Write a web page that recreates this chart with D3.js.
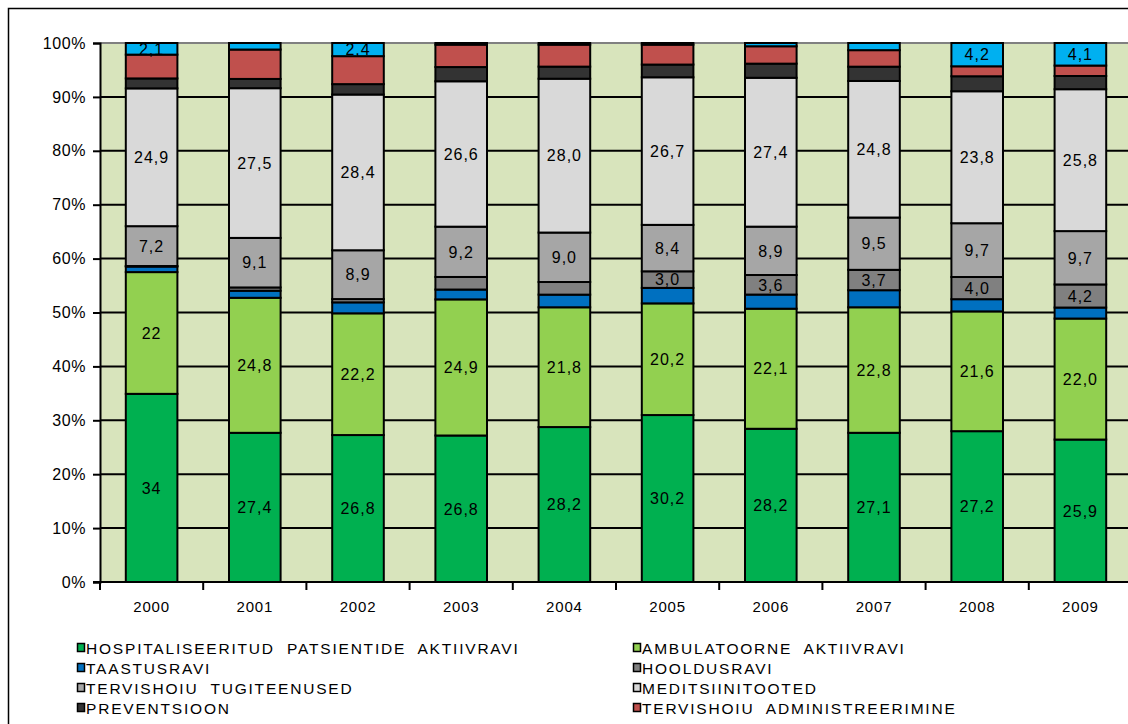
<!DOCTYPE html>
<html>
<head>
<meta charset="utf-8">
<script src="https://cdn.jsdelivr.net/npm/d3@7"></script>
<style>
  html, body { margin: 0; padding: 0; background: #ffffff; }
  svg { display: block; font-family: "Liberation Sans", Arial, sans-serif; }
</style>
</head>
<body>
<svg id="chart" width="1128" height="724"></svg>
<script>
// Tervishoiukulude struktuur funktsioonide järgi, 2000–2009 (%)
const years = ["2000", "2001", "2002", "2003", "2004", "2005", "2006", "2007", "2008", "2009"];

const hospital    = [34, 27.4, 26.8, 26.8, 28.2, 30.2, 28.2, 27.1, 27.2, 25.9];
const ambulatory  = [22, 24.8, 22.2, 24.9, 21.8, 20.2, 22.1, 22.8, 21.6, 22.0];
const rehab       = [1.0, 1.3, 2.0, 1.8, 2.3, 2.8, 2.6, 3.1, 2.2, 2.0];
const nursing     = [0.1, 0.6, 0.6, 2.3, 2.3, 3.0, 3.6, 3.7, 4.0, 4.2];
const support     = [7.2, 9.1, 8.9, 9.2, 9.0, 8.4, 8.9, 9.5, 9.7, 9.7];
const goods       = [24.9, 27.5, 28.4, 26.6, 28.0, 26.7, 27.4, 24.8, 23.8, 25.8];
const prevention  = [1.8, 1.7, 1.9, 2.6, 2.2, 2.3, 2.6, 2.6, 2.7, 2.4];
const admin       = [4.3, 5.4, 5.1, 4.1, 4.0, 3.6, 3.2, 3.0, 1.8, 1.9];
const other       = [2.1, 1.2, 2.4, 0.3, 0.3, 0.3, 0.6, 1.3, 4.2, 4.1];

const seriesNames = [
  "HOSPITALISEERITUD  PATSIENTIDE  AKTIIVRAVI",
  "AMBULATOORNE  AKTIIVRAVI",
  "TAASTUSRAVI",
  "HOOLDUSRAVI",
  "TERVISHOIU  TUGITEENUSED",
  "MEDITSIINITOOTED",
  "PREVENTSIOON",
  "TERVISHOIU  ADMINISTREERIMINE",
  "MUU"
];
const seriesValues = [hospital, ambulatory, rehab, nursing, support, goods, prevention, admin, other];
const seriesColors = ["#00b050", "#92d050", "#0070c0", "#808080", "#a6a6a6", "#d9d9d9", "#333333", "#c0504d", "#00b0f0"];

// years whose segment carries a value label, per series (null = every year)
const labelledYears = [null, null, [], ["2005", "2006", "2007", "2008", "2009"], null, null, [], [], ["2000", "2002", "2008", "2009"]];
// series shown in the legend (the last one has no legend entry)
const legendCount = 8;

const rows = years.map((yr, i) => {
  const r = { year: yr };
  seriesValues.forEach((vals, k) => { r["s" + k] = vals[i]; });
  return r;
});
const keys = seriesValues.map((_, k) => "s" + k);
const stacked = d3.stack().keys(keys).offset(d3.stackOffsetExpand)(rows);

const svg = d3.select("#chart");

// outer frame
svg.append("rect")
  .attr("x", 8.5).attr("y", 8.5).attr("width", 1140).attr("height", 740)
  .attr("fill", "#ffffff").attr("stroke", "#000000").attr("stroke-width", 1.5);

const plot = { left: 100, top: 43, bottom: 582, right: 1132 };

const x = d3.scaleBand().domain(years).range([plot.left, plot.right]).paddingInner(0.5).paddingOuter(0.25);
const y = d3.scaleLinear().domain([0, 1]).range([plot.bottom, plot.top]);

// plot background
svg.append("rect")
  .attr("x", plot.left).attr("y", plot.top)
  .attr("width", plot.right - plot.left).attr("height", plot.bottom - plot.top)
  .attr("fill", "#d8e4bc");

// horizontal gridlines
const gridTicks = d3.range(0, 11).map(d => d / 10);
svg.append("g").selectAll("line")
  .data(gridTicks.filter(t => t > 0))
  .join("line")
  .attr("x1", plot.left).attr("x2", plot.right)
  .attr("y1", d => y(d)).attr("y2", d => y(d))
  .attr("stroke", d => d === 1 ? "#808080" : "#000000")
  .attr("stroke-width", 2);

// y axis
const yAxis = svg.append("g")
  .attr("transform", `translate(${plot.left},0)`)
  .call(d3.axisLeft(y).tickValues(gridTicks).tickFormat(d3.format(".0%")).tickSize(7).tickPadding(7));
yAxis.select(".domain").attr("stroke", "#000").attr("stroke-width", 2);
yAxis.selectAll(".tick line").attr("stroke", "#000").attr("stroke-width", 2);
yAxis.selectAll(".tick text")
  .attr("fill", "#000").attr("font-size", 16).attr("letter-spacing", 0.6)
  .attr("font-family", "Liberation Sans, Arial, sans-serif");

// bars
const seg = svg.append("g").selectAll("g")
  .data(stacked)
  .join("g")
  .attr("fill", d => seriesColors[d.index]);

seg.selectAll("rect")
  .data(d => d)
  .join("rect")
  .attr("x", d => x(d.data.year))
  .attr("y", d => y(d[1]))
  .attr("width", x.bandwidth())
  .attr("height", d => y(d[0]) - y(d[1]))
  .attr("stroke", "#000000")
  .attr("stroke-width", 2);

// x axis
const step = x.step();
const boundaries = years.map((yr) => x(yr) + x.bandwidth() / 2 + step / 2);
const xg = svg.append("g");
xg.append("line")
  .attr("x1", plot.left - 7).attr("x2", plot.right)
  .attr("y1", plot.bottom).attr("y2", plot.bottom)
  .attr("stroke", "#000").attr("stroke-width", 2);
xg.selectAll("line.tick")
  .data([plot.left].concat(boundaries))
  .join("line")
  .attr("class", "tick")
  .attr("x1", d => d).attr("x2", d => d)
  .attr("y1", plot.bottom).attr("y2", plot.bottom + 8)
  .attr("stroke", "#000").attr("stroke-width", 2);
xg.selectAll("text")
  .data(years)
  .join("text")
  .attr("x", d => x(d) + x.bandwidth() / 2)
  .attr("y", 612)
  .attr("text-anchor", "middle")
  .attr("font-size", 15)
  .attr("letter-spacing", 0.8)
  .text(d => d);

// value labels
const fmt = d3.formatLocale({ decimal: ",", thousands: " ", grouping: [3] }).format(".1f");
const labelText = (v, yr) => (yr === "2000" && Number.isInteger(v)) ? String(v) : fmt(v);

const labelData = [];
stacked.forEach(s => {
  const wanted = labelledYears[s.index];
  s.forEach((d, i) => {
    const yr = d.data.year;
    if (wanted === null || wanted.includes(yr)) {
      labelData.push({ yr, v: seriesValues[s.index][i], y0: d[0], y1: d[1] });
    }
  });
});
svg.append("g").selectAll("text")
  .data(labelData)
  .join("text")
  .attr("x", d => x(d.yr) + x.bandwidth() / 2)
  .attr("y", d => (y(d.y0) + y(d.y1)) / 2)
  .attr("dy", "0.36em")
  .attr("text-anchor", "middle")
  .attr("font-size", 16)
  .attr("letter-spacing", 1.0)
  .attr("fill", "#000")
  .text(d => labelText(d.v, d.yr));

// legend
const legend = svg.append("g");
const legendItems = seriesNames.slice(0, legendCount).map((name, k) => ({ name, k }));
const item = legend.selectAll("g")
  .data(legendItems)
  .join("g")
  .attr("transform", d => `translate(${d.k % 2 === 0 ? 77 : 633},${648 + Math.floor(d.k / 2) * 20})`);
item.append("rect")
  .attr("x", 0.5).attr("y", -4.5).attr("width", 7).attr("height", 8)
  .attr("fill", d => seriesColors[d.k])
  .attr("stroke", "#000").attr("stroke-width", 1.5);
item.append("text")
  .attr("x", 9).attr("y", 0).attr("dy", "0.36em")
  .attr("font-size", 15.5)
  .attr("letter-spacing", 1.8)
  .attr("xml:space", "preserve")
  .style("white-space", "pre")
  .text(d => d.name);
</script>
</body>
</html>
